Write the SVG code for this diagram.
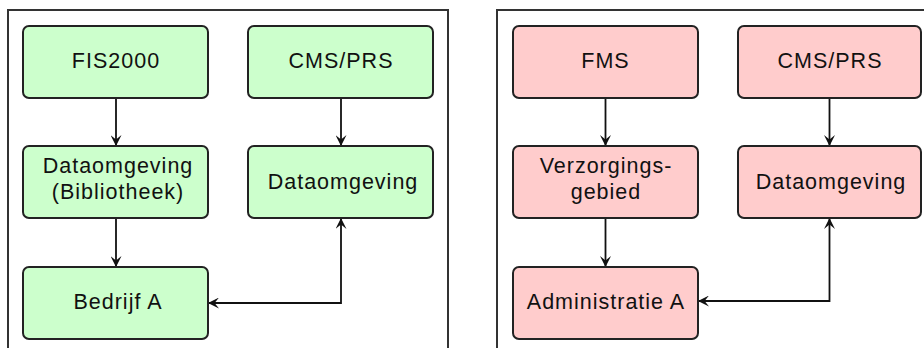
<svg xmlns="http://www.w3.org/2000/svg" width="924" height="348" viewBox="0 0 924 348">
<defs>
<style>
.frame{fill:none;stroke:#333;stroke-width:2}
.g rect{fill:#ccffcc;stroke:#222;stroke-width:2}
.p rect{fill:#ffcccc;stroke:#222;stroke-width:2}
text{font-family:"Liberation Sans",Arial,sans-serif;font-size:21.5px;fill:#111;text-anchor:middle;letter-spacing:1px}
.c path{fill:none;stroke:#111;stroke-width:1.8}
</style>
<marker id="ah" viewBox="0 0 10 10" refX="10" refY="5" markerWidth="11" markerHeight="11" markerUnits="userSpaceOnUse" orient="auto-start-reverse">
<path d="M10,5 L0,0 L4,5 L0,10 z" fill="#111"/>
</marker>
</defs>
<rect width="924" height="348" fill="#fff"/>
<path class="frame" d="M8,348 V10 H448 V348"/>
<path class="frame" d="M497,348 V10 H924"/>
<g class="c" id="connectors">
<path d="M116,98 V146" marker-end="url(#ah)"/>
<path d="M116,218 V267" marker-end="url(#ah)"/>
<path d="M341,98 V146" marker-end="url(#ah)"/>
<path d="M208,303 H341 V218" marker-start="url(#ah)" marker-end="url(#ah)"/>
<path d="M605.5,98 V146" marker-end="url(#ah)"/>
<path d="M605.5,218 V267" marker-end="url(#ah)"/>
<path d="M829.5,98 V146" marker-end="url(#ah)"/>
<path d="M698,301 H829.5 V218" marker-start="url(#ah)" marker-end="url(#ah)"/>
</g>
<g id="fis2000" class="g"><rect x="23" y="26" width="185" height="72" rx="6"/><text x="116" y="68">FIS2000</text></g>
<g id="cmsprs1" class="g"><rect x="248" y="26" width="185" height="72" rx="6"/><text x="341" y="68">CMS/PRS</text></g>
<g id="databib" class="g"><rect x="23" y="146" width="185" height="72" rx="6"/><text x="118" y="173">Dataomgeving</text><text x="118" y="199">(Bibliotheek)</text></g>
<g id="data1" class="g"><rect x="248" y="146" width="185" height="72" rx="6"/><text x="343" y="189">Dataomgeving</text></g>
<g id="bedrijfa" class="g"><rect x="23" y="267" width="185" height="72" rx="6"/><text x="118" y="309">Bedrijf A</text></g>
<g id="fms" class="p"><rect x="513" y="26" width="185" height="72" rx="6"/><text x="605.5" y="68">FMS</text></g>
<g id="cmsprs2" class="p"><rect x="738" y="26" width="183" height="72" rx="6"/><text x="830" y="68">CMS/PRS</text></g>
<g id="verzorging" class="p"><rect x="513" y="146" width="185" height="72" rx="6"/><text x="606" y="173">Verzorgings-</text><text x="606" y="199">gebied</text></g>
<g id="data2" class="p"><rect x="738" y="146" width="183" height="72" rx="6"/><text x="831" y="189">Dataomgeving</text></g>
<g id="admina" class="p"><rect x="513" y="267" width="185" height="72" rx="6"/><text x="606" y="309">Administratie A</text></g>
</svg>
